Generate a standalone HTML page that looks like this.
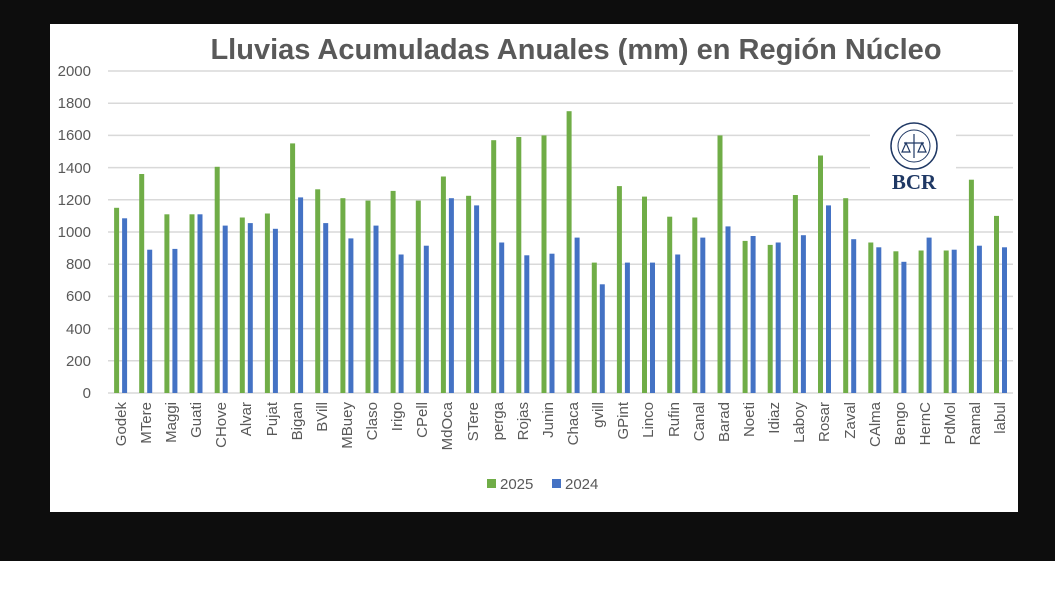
<!DOCTYPE html>
<html><head><meta charset="utf-8"><style>
html,body{margin:0;padding:0;background:#fff}
</style></head><body>
<svg width="1055" height="599" xmlns="http://www.w3.org/2000/svg" font-family="'Liberation Sans', sans-serif">
<rect x="0" y="0" width="1055" height="561" fill="#0d0d0d"/>
<rect x="50" y="24" width="968" height="488" fill="#fff"/>
<text x="576" y="59" text-anchor="middle" font-size="29" font-weight="bold" fill="#595959">Lluvias Acumuladas Anuales (mm)  en Región Núcleo</text>
<g stroke="#d9d9d9" stroke-width="1.5">
<line x1="108" x2="1013" y1="71" y2="71"/><line x1="108" x2="1013" y1="103.2" y2="103.2"/>
<line x1="108" x2="1013" y1="135.4" y2="135.4"/><line x1="108" x2="1013" y1="167.6" y2="167.6"/>
<line x1="108" x2="1013" y1="199.8" y2="199.8"/><line x1="108" x2="1013" y1="232" y2="232"/>
<line x1="108" x2="1013" y1="264.2" y2="264.2"/><line x1="108" x2="1013" y1="296.4" y2="296.4"/>
<line x1="108" x2="1013" y1="328.6" y2="328.6"/><line x1="108" x2="1013" y1="360.8" y2="360.8"/>
<line x1="108" x2="1013" y1="393" y2="393"/>
</g>
<g font-size="15" fill="#595959" text-anchor="end">
<text x="91" y="76">2000</text><text x="91" y="108">1800</text><text x="91" y="140">1600</text>
<text x="91" y="173">1400</text><text x="91" y="205">1200</text><text x="91" y="237">1000</text>
<text x="91" y="269">800</text><text x="91" y="301">600</text><text x="91" y="334">400</text>
<text x="91" y="366">200</text><text x="91" y="398">0</text>
</g>
<rect x="870" y="118" width="86" height="78" fill="#fff"/>
<circle cx="914" cy="146" r="23" fill="none" stroke="#1f3864" stroke-width="1.5"/>
<circle cx="914" cy="146" r="16" fill="none" stroke="#1f3864" stroke-width="1"/>
<path d="M914 134 V158 M904 143 H924 M906 143 L902 152 H910 Z M922 143 L918 152 H926 Z" stroke="#1f3864" fill="none" stroke-width="1.2"/>
<text x="914" y="189" text-anchor="middle" font-family="'Liberation Serif', serif" font-weight="bold" font-size="21" fill="#1f3864">BCR</text>
<g transform="translate(0,393) scale(1,-1)">
<g fill="#70ad47">
<rect x="114.1" width="5" y="0" height="185.2"/><rect x="139.2" width="5" y="0" height="219"/>
<rect x="164.4" width="5" y="0" height="178.7"/><rect x="189.5" width="5" y="0" height="178.7"/>
<rect x="214.7" width="5" y="0" height="226.2"/><rect x="239.8" width="5" y="0" height="175.5"/>
<rect x="264.9" width="5" y="0" height="179.5"/><rect x="290.1" width="5" y="0" height="249.6"/>
<rect x="315.2" width="5" y="0" height="203.7"/><rect x="340.4" width="5" y="0" height="194.8"/>
<rect x="365.5" width="5" y="0" height="192.4"/><rect x="390.6" width="5" y="0" height="202.1"/>
<rect x="415.8" width="5" y="0" height="192.4"/><rect x="440.9" width="5" y="0" height="216.5"/>
<rect x="466.1" width="5" y="0" height="197.2"/><rect x="491.2" width="5" y="0" height="252.8"/>
<rect x="516.3" width="5" y="0" height="256"/><rect x="541.5" width="5" y="0" height="257.6"/>
<rect x="566.6" width="5" y="0" height="281.8"/><rect x="591.8" width="5" y="0" height="130.4"/>
<rect x="616.9" width="5" y="0" height="206.9"/><rect x="642" width="5" y="0" height="196.4"/>
<rect x="667.2" width="5" y="0" height="176.3"/><rect x="692.3" width="5" y="0" height="175.5"/>
<rect x="717.5" width="5" y="0" height="257.6"/><rect x="742.6" width="5" y="0" height="152.1"/>
<rect x="767.7" width="5" y="0" height="148.1"/><rect x="792.9" width="5" y="0" height="198"/>
<rect x="818" width="5" y="0" height="237.5"/><rect x="843.2" width="5" y="0" height="194.8"/>
<rect x="868.3" width="5" y="0" height="150.5"/><rect x="893.4" width="5" y="0" height="141.7"/>
<rect x="918.6" width="5" y="0" height="142.5"/><rect x="943.7" width="5" y="0" height="142.5"/>
<rect x="968.9" width="5" y="0" height="213.3"/><rect x="994" width="5" y="0" height="177.1"/>
</g>
<g fill="#4472c4">
<rect x="122.1" width="5" y="0" height="174.7"/><rect x="147.2" width="5" y="0" height="143.3"/>
<rect x="172.4" width="5" y="0" height="144.1"/><rect x="197.5" width="5" y="0" height="178.7"/>
<rect x="222.7" width="5" y="0" height="167.4"/><rect x="247.8" width="5" y="0" height="169.9"/>
<rect x="272.9" width="5" y="0" height="164.2"/><rect x="298.1" width="5" y="0" height="195.6"/>
<rect x="323.2" width="5" y="0" height="169.9"/><rect x="348.4" width="5" y="0" height="154.6"/>
<rect x="373.5" width="5" y="0" height="167.4"/><rect x="398.6" width="5" y="0" height="138.5"/>
<rect x="423.8" width="5" y="0" height="147.3"/><rect x="448.9" width="5" y="0" height="194.8"/>
<rect x="474.1" width="5" y="0" height="187.6"/><rect x="499.2" width="5" y="0" height="150.5"/>
<rect x="524.3" width="5" y="0" height="137.7"/><rect x="549.5" width="5" y="0" height="139.3"/>
<rect x="574.6" width="5" y="0" height="155.4"/><rect x="599.8" width="5" y="0" height="108.7"/>
<rect x="624.9" width="5" y="0" height="130.4"/><rect x="650" width="5" y="0" height="130.4"/>
<rect x="675.2" width="5" y="0" height="138.5"/><rect x="700.3" width="5" y="0" height="155.4"/>
<rect x="725.5" width="5" y="0" height="166.6"/><rect x="750.6" width="5" y="0" height="157"/>
<rect x="775.7" width="5" y="0" height="150.5"/><rect x="800.9" width="5" y="0" height="157.8"/>
<rect x="826" width="5" y="0" height="187.6"/><rect x="851.2" width="5" y="0" height="153.8"/>
<rect x="876.3" width="5" y="0" height="145.7"/><rect x="901.4" width="5" y="0" height="131.2"/>
<rect x="926.6" width="5" y="0" height="155.4"/><rect x="951.7" width="5" y="0" height="143.3"/>
<rect x="976.9" width="5" y="0" height="147.3"/><rect x="1002" width="5" y="0" height="145.7"/>
</g>
</g>
<g font-size="15" fill="#595959" text-anchor="end">
<text transform="translate(126,402) rotate(-90)">Godek</text>
<text transform="translate(151,402) rotate(-90)">MTere</text>
<text transform="translate(176,402) rotate(-90)">Maggi</text>
<text transform="translate(201,402) rotate(-90)">Guati</text>
<text transform="translate(226,402) rotate(-90)">CHove</text>
<text transform="translate(251,402) rotate(-90)">Alvar</text>
<text transform="translate(277,402) rotate(-90)">Pujat</text>
<text transform="translate(302,402) rotate(-90)">Bigan</text>
<text transform="translate(327,402) rotate(-90)">BVill</text>
<text transform="translate(352,402) rotate(-90)">MBuey</text>
<text transform="translate(377,402) rotate(-90)">Claso</text>
<text transform="translate(402,402) rotate(-90)">Irigo</text>
<text transform="translate(427,402) rotate(-90)">CPell</text>
<text transform="translate(452,402) rotate(-90)">MdOca</text>
<text transform="translate(478,402) rotate(-90)">STere</text>
<text transform="translate(503,402) rotate(-90)">perga</text>
<text transform="translate(528,402) rotate(-90)">Rojas</text>
<text transform="translate(553,402) rotate(-90)">Junin</text>
<text transform="translate(578,402) rotate(-90)">Chaca</text>
<text transform="translate(603,402) rotate(-90)">gvill</text>
<text transform="translate(628,402) rotate(-90)">GPint</text>
<text transform="translate(653,402) rotate(-90)">Linco</text>
<text transform="translate(679,402) rotate(-90)">Rufin</text>
<text transform="translate(704,402) rotate(-90)">Canal</text>
<text transform="translate(729,402) rotate(-90)">Barad</text>
<text transform="translate(754,402) rotate(-90)">Noeti</text>
<text transform="translate(779,402) rotate(-90)">Idiaz</text>
<text transform="translate(804,402) rotate(-90)">Laboy</text>
<text transform="translate(829,402) rotate(-90)">Rosar</text>
<text transform="translate(855,402) rotate(-90)">Zaval</text>
<text transform="translate(880,402) rotate(-90)">CAlma</text>
<text transform="translate(905,402) rotate(-90)">Bengo</text>
<text transform="translate(930,402) rotate(-90)">HernC</text>
<text transform="translate(955,402) rotate(-90)">PdMol</text>
<text transform="translate(980,402) rotate(-90)">Ramal</text>
<text transform="translate(1005,402) rotate(-90)">labul</text>
</g>
<rect x="487" y="479" width="9" height="9" fill="#70ad47"/>
<text x="500" y="489" font-size="15" fill="#595959">2025</text>
<rect x="552" y="479" width="9" height="9" fill="#4472c4"/>
<text x="565" y="489" font-size="15" fill="#595959">2024</text>
</svg>
</body></html>
